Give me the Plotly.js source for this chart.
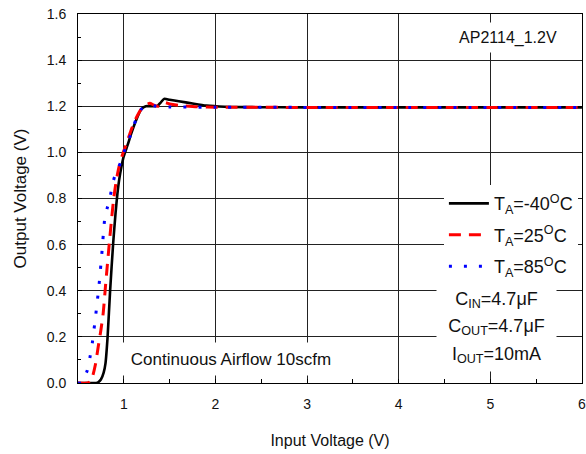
<!DOCTYPE html>
<html>
<head>
<meta charset="utf-8">
<script src="https://cdn.plot.ly/plotly-3.0.1.min.js"></script>
<style>html,body{margin:0;padding:0;background:#fff;}#chart{width:586px;height:454px;}</style>
</head>
<body>
<div id="chart"></div>
<script>
// -40 C
const xM40 = [0.5, 0.7, 0.72, 0.75, 0.78, 0.8, 0.823, 0.851, 0.884, 0.91, 0.93, 0.95, 0.975, 1.0, 1.04, 1.08, 1.13, 1.19, 1.24, 1.3, 1.37, 1.40, 1.44, 1.5, 1.6, 1.75, 1.9, 2.1, 2.4, 3, 4, 5, 6];
const yM40 = [0, 0, 0.003, 0.015, 0.045, 0.085, 0.2, 0.404, 0.607, 0.738, 0.82, 0.883, 0.94, 0.984, 1.03, 1.08, 1.135, 1.187, 1.2, 1.2, 1.203, 1.215, 1.232, 1.228, 1.222, 1.212, 1.203, 1.198, 1.196, 1.195, 1.195, 1.195, 1.195];
// 25 C
const x25 = [0.5, 0.6, 0.63, 0.66, 0.69, 0.721, 0.75, 0.775, 0.8, 0.819, 0.845, 0.866, 0.89, 0.92, 0.955, 0.993, 1.04, 1.083, 1.13, 1.19, 1.24, 1.283, 1.33, 1.37, 1.41, 1.45, 1.5, 1.6, 1.8, 2.0, 3, 4, 5, 6];
const y25 = [0, 0, 0.005, 0.03, 0.08, 0.158, 0.23, 0.303, 0.42, 0.506, 0.62, 0.709, 0.8, 0.883, 0.95, 0.999, 1.05, 1.1, 1.145, 1.187, 1.205, 1.213, 1.205, 1.2, 1.208, 1.216, 1.21, 1.204, 1.198, 1.196, 1.195, 1.195, 1.195, 1.195];
// 85 C
const x85 = [0.5, 0.54, 0.57, 0.6, 0.63, 0.656, 0.695, 0.73, 0.76, 0.793, 0.82, 0.848, 0.87, 0.9, 0.938, 0.97, 1.0, 1.04, 1.083, 1.13, 1.19, 1.24, 1.283, 1.35, 1.5, 2, 3, 4, 5, 6];
const y85 = [0, 0, 0.025, 0.053, 0.11, 0.173, 0.3, 0.426, 0.56, 0.716, 0.76, 0.8, 0.85, 0.895, 0.926, 0.965, 1.0, 1.04, 1.085, 1.14, 1.187, 1.203, 1.207, 1.2, 1.197, 1.196, 1.195, 1.195, 1.195, 1.195];

const seriesNames = ['T<sub>A</sub>=-40<sup>O</sup>C', 'T<sub>A</sub>=25<sup>O</sup>C', 'T<sub>A</sub>=85<sup>O</sup>C'];
const xTickVals = [1, 2, 3, 4, 5, 6];
const yTickVals = [0, 0.2, 0.4, 0.6, 0.8, 1.0, 1.2, 1.4, 1.6];

const FONT = 'Liberation Sans, Arial, sans-serif';
const TXT = '#111';

const traces = [
  {x: xM40, y: yM40, name: seriesNames[0], mode: 'lines', legendgroup: 'a',
   line: {color: '#000000', width: 2.6, shape: 'spline', smoothing: 0.6}},
  {x: x25, y: y25, name: seriesNames[1], mode: 'lines', legendgroup: 'b',
   line: {color: '#ff0000', width: 3, dash: '12px,8px', shape: 'spline', smoothing: 0.6}},
  {x: x85, y: y85, name: seriesNames[2], mode: 'lines', legendgroup: 'c',
   line: {color: '#0000ff', width: 3, dash: '3px,12px', shape: 'spline', smoothing: 0.6}}
];

const axisCommon = {
  showline: true, linecolor: '#000', linewidth: 1, mirror: true,
  showgrid: true, gridcolor: '#222', gridwidth: 1, zeroline: false,
  ticks: 'inside', ticklen: 4, tickcolor: '#000',
  tickfont: {family: FONT, size: 14, color: TXT}
};

const layout = {
  width: 586, height: 454,
  margin: {l: 78, r: 4, t: 14, b: 71},
  paper_bgcolor: '#fff', plot_bgcolor: '#fff',
  font: {family: FONT, color: TXT},
  showlegend: true,
  legend: {
    x: 0.726, y: 0.536, xanchor: 'left', yanchor: 'top',
    bgcolor: '#fff', borderwidth: 0,
    font: {family: FONT, size: 18, color: TXT},
    tracegroupgap: 5, itemwidth: 40
  },
  xaxis: Object.assign({}, axisCommon, {
    range: [0.5, 6.0005], tickvals: xTickVals, ticktext: xTickVals.map(String),
    minor: {dtick: 0.5, ticks: 'inside', ticklen: 4, tickcolor: '#000', showgrid: false},
    ticklabelstandoff: 8, ticklabeloverflow: 'allow',
    title: {text: 'Input Voltage (V)', font: {family: FONT, size: 16, color: TXT}, standoff: 24}
  }),
  yaxis: Object.assign({}, axisCommon, {
    range: [0, 1.6], tickvals: yTickVals, tickformat: '.1f',
    minor: {dtick: 0.1, ticks: 'inside', ticklen: 3, tickcolor: '#000', showgrid: false},
    ticklabelstandoff: 8,
    title: {text: 'Output Voltage (V)', font: {family: FONT, size: 17, color: TXT}, standoff: 15}
  }),
  annotations: [
    {x: 5.196, y: 1.50, xref: 'x', yref: 'y', text: 'AP2114_1.2V', showarrow: false,
     font: {family: FONT, size: 16, color: TXT}, bgcolor: '#fff', width: 130, height: 27},
    {x: 2.17, y: 0.104, xref: 'x', yref: 'y', text: 'Continuous Airflow 10scfm', showarrow: false,
     font: {family: FONT, size: 17, color: TXT}, bgcolor: '#fff', width: 226, height: 30},
    {x: 5.065, y: 0.36, xref: 'x', yref: 'y', text: 'C<sub>IN</sub>=4.7μF', showarrow: false,
     font: {family: FONT, size: 18, color: TXT}, bgcolor: '#fff', width: 117, height: 30},
    {x: 5.065, y: 0.243, xref: 'x', yref: 'y', text: 'C<sub>OUT</sub>=4.7μF', showarrow: false,
     font: {family: FONT, size: 18, color: TXT}, bgcolor: '#fff', width: 117, height: 30},
    {x: 5.065, y: 0.121, xref: 'x', yref: 'y', text: 'I<sub>OUT</sub>=10mA', showarrow: false,
     font: {family: FONT, size: 18, color: TXT}, bgcolor: '#fff', width: 117, height: 30}
  ]
};

Plotly.newPlot('chart', traces, layout, {displayModeBar: false, staticPlot: true});
</script>
</body>
</html>
